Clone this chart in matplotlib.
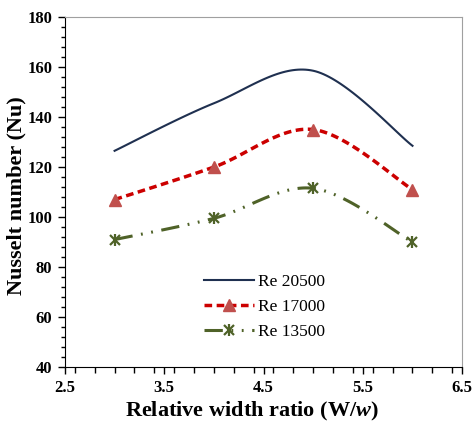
import numpy as np
import matplotlib
matplotlib.use("Agg")
import matplotlib.pyplot as plt
from matplotlib.ticker import MultipleLocator, FormatStrFormatter

plt.rcParams['font.family'] = 'Liberation Serif'
plt.rcParams['mathtext.fontset'] = 'custom'
plt.rcParams['mathtext.bfit'] = 'Liberation Serif:italic:bold'
plt.rcParams['mathtext.bf'] = 'Liberation Serif:bold'

# data
ratio = [3, 4, 5, 6]
nu_20500 = [126.5, 145.5, 158.5, 128.5]
nu_17000 = [107, 120, 135, 111]
nu_13500 = [91, 99.5, 111.5, 90]
labels = ['Re 20500', 'Re 17000', 'Re 13500']


def smooth(xs, ys, sx=99.25, sy=2.5, n=40):
    # excel-like smoothed line (bezier through points)
    p = np.column_stack([np.array(xs) * sx, np.array(ys) * sy])
    out = []
    for i in range(len(p) - 1):
        p0 = p[i - 1] if i > 0 else p[i]
        p3 = p[i + 2] if i + 2 < len(p) else p[i + 1]
        c1 = p[i] + (p[i + 1] - p0) / 6
        c2 = p[i + 1] - (p3 - p[i]) / 6
        t = np.linspace(0, 1, n)[:, None]
        seg = ((1 - t) ** 3 * p[i] + 3 * (1 - t) ** 2 * t * c1
               + 3 * (1 - t) * t ** 2 * c2 + t ** 3 * p[i + 1])
        out.append(seg if i == 0 else seg[1:])
    out = np.vstack(out)
    return out[:, 0] / sx, out[:, 1] / sy


fig = plt.figure(figsize=(4.74, 4.24), dpi=100)
ax = fig.add_axes([0.137, 0.134, 0.838, 0.826])

navy = '#1f3050'
red = '#cc0000'
tri = '#c0504d'
green = '#4f6228'

sx, sy = smooth(ratio, nu_20500)
l1, = ax.plot(sx, sy, color=navy, lw=1.5)

sx, sy = smooth(ratio, nu_17000)
l2, = ax.plot(sx, sy, color=red, lw=2.5, ls=(0, (2.2, 1.3)))
m2, = ax.plot(ratio, nu_17000, ls='none', marker='^', ms=9, color=tri)

sx, sy = smooth(ratio, nu_13500)
l3, = ax.plot(sx, sy, color=green, lw=2.2, ls=(0, (6, 2.8, 0.6, 2.8, 0.6, 2.8)))
m3a, = ax.plot(ratio, nu_13500, ls='none', marker='x', ms=7, mew=1.6, color=green)
m3b, = ax.plot(ratio, nu_13500, ls='none', marker='|', ms=8, mew=1.6, color=green)

ax.set_xlim(2.5, 6.5)
ax.set_ylim(40, 180)
ax.xaxis.set_major_locator(MultipleLocator(1, offset=0.5))
ax.xaxis.set_minor_locator(MultipleLocator(0.2))
ax.yaxis.set_major_locator(MultipleLocator(20))
ax.yaxis.set_minor_locator(MultipleLocator(4))
ax.tick_params(axis='both', which='major', direction='out', length=5, width=1,
               labelsize=12, pad=4)
ax.tick_params(axis='y', which='minor', direction='out', length=3, width=1)
ax.tick_params(axis='x', which='minor', direction='out', length=4, width=1)
for lab in ax.get_xticklabels() + ax.get_yticklabels():
    lab.set_fontweight('bold')
ax.xaxis.set_major_formatter(FormatStrFormatter('%.1f'))

for s in ['top', 'right']:
    ax.spines[s].set_color('#a0a0a0')
for s in ['left', 'bottom']:
    ax.spines[s].set_color('black')

ax.set_xlabel('Relative width ratio (W/$\\mathbfit{w}$)', fontsize=16, fontweight='bold')
ax.set_ylabel('Nusselt number (Nu)', fontsize=16, fontweight='bold')
ax.xaxis.set_label_coords(0.47, -0.095)
ax.yaxis.set_label_coords(-0.098, 0.49)

ax.legend([l1, (l2, m2), (l3, m3a, m3b)], labels, loc='upper left',
          bbox_to_anchor=(0.31, 0.31), frameon=False, fontsize=12.5,
          handlelength=2.9, handletextpad=0.2, labelspacing=0.5)

fig.savefig('out.png', dpi=100)
